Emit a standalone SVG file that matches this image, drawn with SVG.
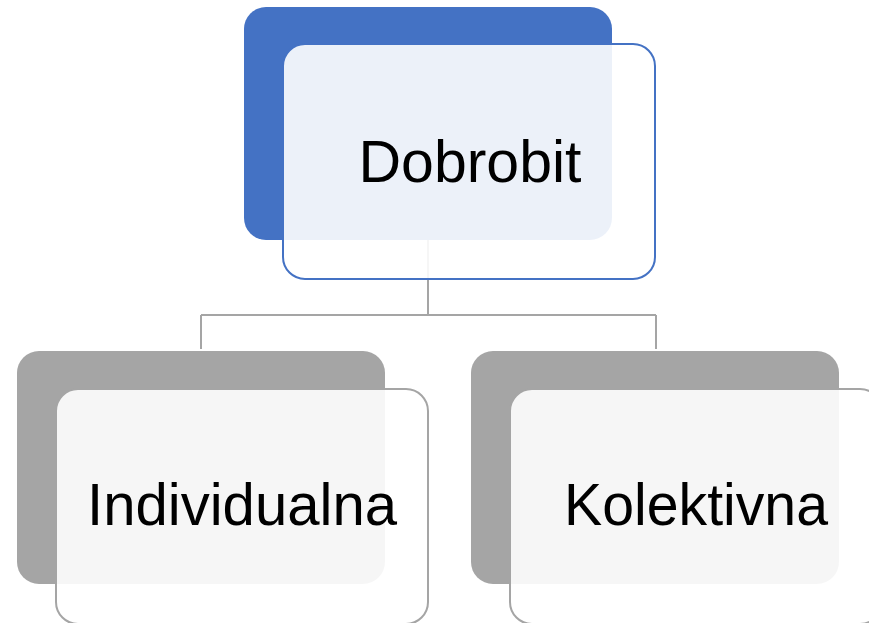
<svg xmlns="http://www.w3.org/2000/svg" width="869" height="623" viewBox="0 0 869 623">
<style>
.bk-blue{fill:#4472C4}
.bk-gray{fill:#A5A5A5}
.fr{fill:#FFFFFF;fill-opacity:0.9;stroke-width:2}
.fr-blue{stroke:#4472C4}
.fr-gray{stroke:#A5A5A5}
.lbl{font-family:"Liberation Sans",Arial,sans-serif;font-size:59px;fill:#000000;text-anchor:middle}
.conn{fill:none;stroke:#A5A5A5;stroke-width:2}
</style>
<rect width="869" height="623" fill="#FFFFFF"/>
<g id="connectors">
<path class="conn" d="M428,240 V315 M201,315 H656 M201,315 V349 M656,315 V349"/>
</g>
<g id="node-dobrobit">
<rect class="bk-blue" x="244" y="7" width="368" height="233" rx="22"/>
<rect class="fr fr-blue" x="283" y="44" width="372" height="235" rx="22"/>
<text class="lbl" x="470" y="182">Dobrobit</text>
</g>
<g id="node-individualna">
<rect class="bk-gray" x="17" y="351" width="368" height="233" rx="22"/>
<rect class="fr fr-gray" x="56" y="389" width="372" height="235" rx="22"/>
<text class="lbl" x="242" y="525" textLength="310" lengthAdjust="spacingAndGlyphs">Individualna</text>
</g>
<g id="node-kolektivna">
<rect class="bk-gray" x="471" y="351" width="368" height="233" rx="22"/>
<rect class="fr fr-gray" x="510" y="389" width="372" height="235" rx="22"/>
<text class="lbl" x="696" y="525" textLength="264" lengthAdjust="spacingAndGlyphs">Kolektivna</text>
</g>
</svg>
